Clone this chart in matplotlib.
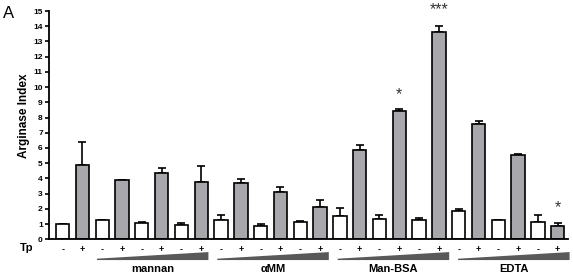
import matplotlib
matplotlib.use("Agg")
import matplotlib.pyplot as plt
from matplotlib.patches import Polygon
from matplotlib.transforms import blended_transform_factory
import numpy as np

plt.rcParams['font.family'] = ['Liberation Sans', 'DejaVu Sans']

# data (pairs of Tp -, Tp +)
ctrl_vals = [1.0, 4.9]
ctrl_err = [0.0, 1.46]
mannan_vals = [1.26, 3.88, 1.09, 4.36, 0.92, 3.75]
mannan_err = [0.04, 0.04, 0.04, 0.32, 0.13, 1.07]
amm_vals = [1.29, 3.73, 0.89, 3.14, 1.11, 2.09]
amm_err = [0.32, 0.24, 0.11, 0.30, 0.11, 0.46]
manbsa_vals = [1.5, 5.86, 1.31, 8.43, 1.24, 13.6]
manbsa_err = [0.57, 0.33, 0.30, 0.13, 0.18, 0.40]
edta_vals = [1.87, 7.58, 1.29, 5.51, 1.13, 0.89]
edta_err = [0.09, 0.18, 0.0, 0.09, 0.48, 0.20]

group_names = ['mannan', 'αMM', 'Man-BSA', 'EDTA']
tp_signs = ['-', '+'] * 13
stars = {17: ('*', 9.5), 19: ('***', 15.1), 25: ('*', 2.05)}

vals = ctrl_vals + mannan_vals + amm_vals + manbsa_vals + edta_vals
errs = ctrl_err + mannan_err + amm_err + manbsa_err + edta_err
x = np.arange(len(vals))
colors = ['white' if s == '-' else '#a7a7ac' for s in tp_signs]

fig = plt.figure(figsize=(5.73, 2.80), dpi=100)
ax = fig.add_axes([0.0855, 0.1454, 0.9058, 0.8153])

ax.bar(x, vals, width=0.67, color=colors, edgecolor='black', linewidth=1.2, zorder=2)
ax.errorbar(x, vals, yerr=[np.zeros(len(errs)), errs], fmt='none', ecolor='black',
            elinewidth=1.2, capsize=2.6, capthick=1.2, zorder=1)

ax.set_xlim(-0.69, 25.52)
ax.set_ylim(0, 15)
ax.set_yticks(range(0, 16))
ax.tick_params(axis='y', length=3, width=1.2, labelsize=6, pad=1.5)
for lab in ax.get_yticklabels():
    lab.set_fontweight('bold')
ax.set_xticks(x)
ax.set_xticklabels(tp_signs, fontsize=6.5, fontweight='bold')
ax.tick_params(axis='x', length=0, pad=4)
for side in ['top', 'right']:
    ax.spines[side].set_visible(False)
ax.spines['left'].set_linewidth(1.3)
ax.spines['bottom'].set_linewidth(1.3)

fig.text(24 / 573, 1 - 116 / 280, 'Arginase Index', rotation=90, ha='center', va='center',
         fontsize=8.5, fontweight='bold')

for i, (s, y) in stars.items():
    ax.text(i, y, s, ha='center', va='center', fontsize=11.5, color='#333333', clip_on=False)

# wedges and group labels below the axis
tr = blended_transform_factory(ax.transData, ax.transAxes)
for k, name in enumerate(group_names):
    x0 = 1.73 + 6.08 * k
    x1 = x0 + 5.63
    wedge = Polygon([[x0, -0.091], [x1, -0.091], [x1, -0.056], [x0, -0.085]],
                    closed=True, facecolor='#595959', edgecolor='none',
                    transform=tr, clip_on=False)
    ax.add_patch(wedge)
    ax.text((x0 + x1) / 2, -0.132, name, transform=tr, ha='center', va='center',
            fontsize=8, fontweight='bold')

fig.text(27 / 573, 1 - 248 / 280, 'Tp', ha='center', va='center', fontsize=8, fontweight='bold')
fig.text(9 / 573, 1 - 13 / 280, 'A', ha='center', va='center', fontsize=12)

fig.savefig('out.png', dpi=100)
